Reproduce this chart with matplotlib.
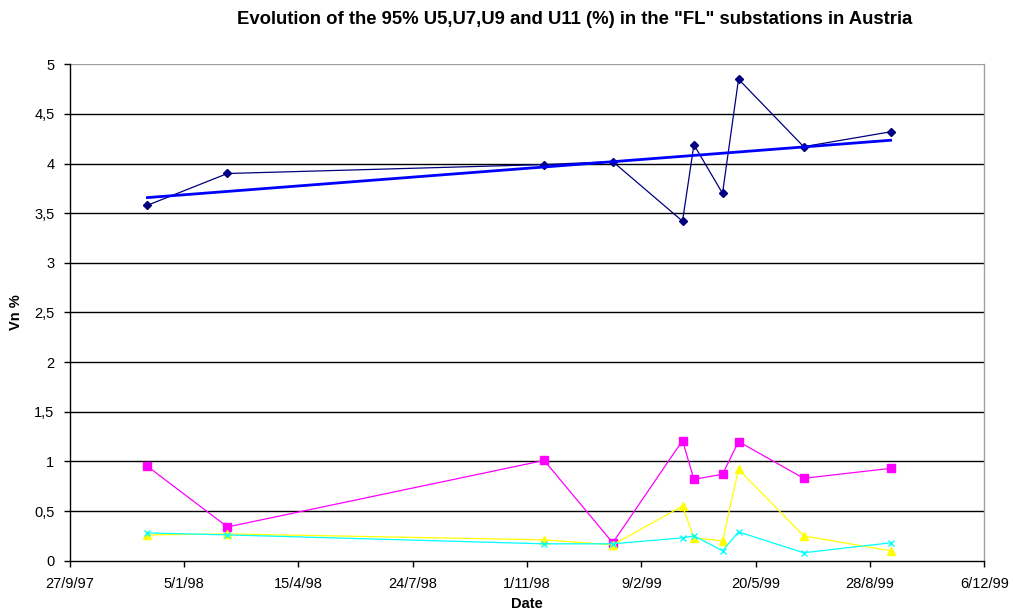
import matplotlib
matplotlib.use("Agg")
import matplotlib.pyplot as plt
import matplotlib.dates as mdates
import numpy as np
import datetime as dt

# ---- data ----
dates = ["1997-12-04", "1998-02-12", "1998-11-16", "1999-01-15", "1999-03-17",
         "1999-03-27", "1999-04-21", "1999-05-05", "1999-07-01", "1999-09-15"]
u5 = [3.58, 3.90, 3.99, 4.02, 3.42, 4.19, 3.70, 4.85, 4.17, 4.32]
u7 = [0.95, 0.34, 1.01, 0.18, 1.21, 0.82, 0.87, 1.20, 0.83, 0.93]
u9 = [0.26, 0.27, 0.21, 0.16, 0.55, 0.23, 0.20, 0.92, 0.25, 0.10]
u11 = [0.28, 0.26, 0.17, 0.17, 0.23, 0.25, 0.10, 0.29, 0.08, 0.18]
tick_dates = ["1997-09-27", "1998-01-05", "1998-04-15", "1998-07-24", "1998-11-01",
              "1999-02-09", "1999-05-20", "1999-08-28", "1999-12-06"]
tick_labels = ["27/9/97", "5/1/98", "15/4/98", "24/7/98", "1/11/98",
               "9/2/99", "20/5/99", "28/8/99", "6/12/99"]
y_ticks = [0, 0.5, 1, 1.5, 2, 2.5, 3, 3.5, 4, 4.5, 5]
y_labels = ["0", "0,5", "1", "1,5", "2", "2,5", "3", "3,5", "4", "4,5", "5"]

plt.rcParams['font.family'] = ['Liberation Sans', 'DejaVu Sans']

x = [mdates.date2num(dt.datetime.strptime(d, "%Y-%m-%d")) for d in dates]
xt = [mdates.date2num(dt.datetime.strptime(d, "%Y-%m-%d")) for d in tick_dates]

fig = plt.figure(figsize=(10.13, 6.14), dpi=100)
ax = fig.add_axes([0.0688, 0.0868, 0.9029, 0.8085])

ax.set_xlim(xt[0], xt[-1])
ax.set_ylim(0, 5)

for yv in y_ticks[1:]:
    ax.axhline(yv, color="#000000" if yv < 5 else "#a0a0a0", lw=1.0, zorder=1)

ax.plot(x, u5, color="#000080", lw=0.9, marker="D", ms=4.5, mfc="#000080", mec="#000080", zorder=3)
ax.plot(x, u7, color="#FF00FF", lw=0.9, marker="s", ms=6, mfc="#FF00FF", mec="#FF00FF", zorder=3)
ax.plot(x, u9, color="#FFFF00", lw=0.9, marker="^", ms=6, mfc="#FFFF00", mec="#FFFF00", zorder=3)
ax.plot(x, u11, color="#00FFFF", lw=0.9, marker="x", ms=5, mew=1.0, mec="#00FFFF", zorder=3)

# linear trendline for U5
coef = np.polyfit(x, u5, 1)
xl = np.array([x[0], x[-1]])
ax.plot(xl, np.polyval(coef, xl), color="#0000FF", lw=2.0, zorder=4)

ax.set_xticks(xt)
ax.set_xticklabels(tick_labels)
ax.set_yticks(y_ticks)
ax.set_yticklabels(y_labels)
ax.tick_params(axis="both", direction="out", length=4, width=1, labelsize=10.5, colors="#000000", pad=7)
ax.tick_params(axis="x", pad=8)

for s in ["left", "bottom"]:
    ax.spines[s].set_color("#000000")
    ax.spines[s].set_linewidth(1.0)
ax.spines["top"].set_visible(False)
ax.spines["right"].set_color("#a0a0a0")
ax.spines["right"].set_linewidth(1.0)

ax.set_xlabel("Date", fontsize=10.5, fontweight="bold", labelpad=4)
ax.set_ylabel("Vn %", fontsize=10.5, fontweight="bold", labelpad=8)

fig.text(0.5676, 0.968, 'Evolution of the 95% U5,U7,U9 and U11 (%) in the "FL" substations in Austria',
         ha="center", va="center", fontsize=13.3, fontweight="bold")

fig.savefig("out.png", dpi=100)
